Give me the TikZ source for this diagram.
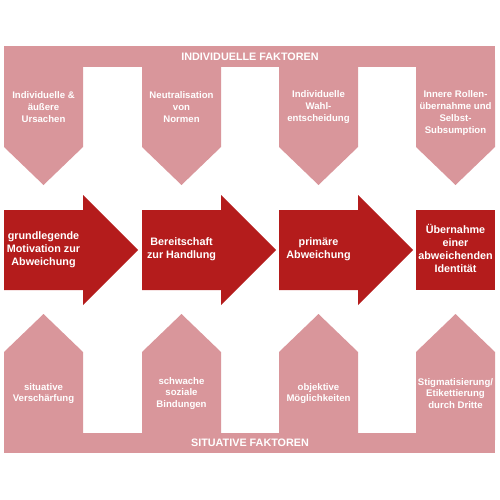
\documentclass[tikz,border=0pt]{standalone}
\usepackage{fontspec}
\setmainfont{Liberation Sans}
\usepackage{tikz}
\definecolor{rosa}{HTML}{D9969B}
\definecolor{rot}{HTML}{B41C1C}
\tikzset{
rahmen/.style={fill=rosa},
pfeil/.style={fill=rot},
klein/.style={text=white,inner sep=0pt,align=center,font=\bfseries\fontsize{9.6}{11.7}\selectfont},
gross/.style={text=white,inner sep=0pt,align=center,font=\bfseries\fontsize{10.8}{13}\selectfont},
titel/.style={text=white,inner sep=0pt,font=\bfseries\fontsize{10.8}{13}\selectfont}}

\begin{document}
\begin{tikzpicture}[x=1pt,y=-1pt]

\useasboundingbox (0,0) rectangle (500,500);

% oben: individuelle Faktoren
\fill[rahmen] (4,46) rectangle (495,67);
\foreach \x in {4,142,279,416}
  \fill[rahmen] (\x,60) -- ++(79,0) -- ++(0,87) -- ++(-39.5,38) -- ++(-39.5,-38) -- cycle;

% unten: situative Faktoren
\fill[rahmen] (4,433) rectangle (495,453);
\foreach \x in {4,142,279,416}
  \fill[rahmen] (\x,440) -- ++(79,0) -- ++(0,-88) -- ++(-39.5,-38) -- ++(-39.5,38) -- cycle;

% Pfeile
\foreach \x in {4,142,279}
  \fill[pfeil] (\x,210) -- ++(79,0) -- ++(0,-15) -- ++(55,55) -- ++(-55,55) -- ++(0,-15) -- ++(-79,0) -- cycle;
\fill[pfeil] (416,210) rectangle (495,290);

\node[titel] (t1) at (250,57) {INDIVIDUELLE FAKTOREN};
\node[titel] (t2) at (250,443) {SITUATIVE FAKTOREN};

\node[klein] (i1) at (43.5,107) {Individuelle \&\\äußere\\Ursachen};
\node[klein] (i2) at (181.5,107) {Neutralisation\\von\\Normen};
\node[klein] (i3) at (318.5,107) {Individuelle\\Wahl-\\entscheidung};
\node[klein] (i4) at (455.5,113) {Innere Rollen-\\übernahme und\\Selbst-\\Subsumption};

\node[gross] (a1) at (43.5,250) {grundlegende\\Motivation zur\\Abweichung};
\node[gross] (a2) at (181.5,249.5) {Bereitschaft\\zur Handlung};
\node[gross] (a3) at (318.5,249.5) {primäre\\Abweichung};
\node[gross] (a4) at (455.5,248) {Übernahme\\einer\\abweichenden\\Identität};

\node[klein] (s1) at (43.5,393.5) {situative\\Verschärfung};
\node[klein] (s2) at (181.5,393.5) {schwache\\soziale\\Bindungen};
\node[klein] (s3) at (318.5,393.5) {objektive\\Möglichkeiten};
\node[klein] (s4) at (455.5,393.5) {Stigmatisierung/\\Etikettierung\\durch Dritte};

\end{tikzpicture}
\end{document}
